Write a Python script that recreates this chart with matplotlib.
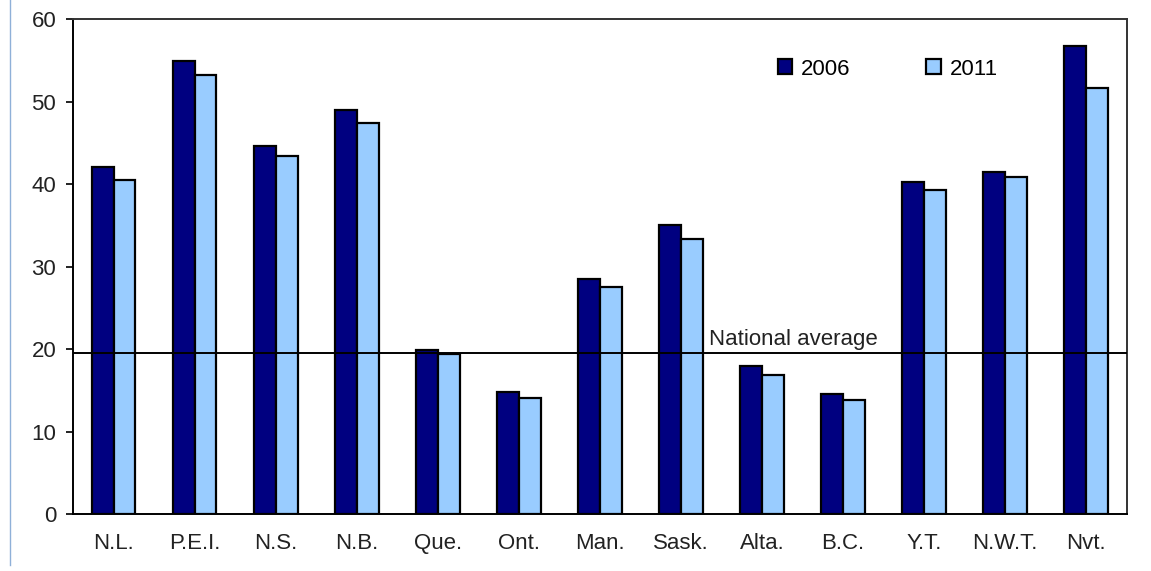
import numpy as np
import matplotlib.pyplot as plt
from matplotlib.lines import Line2D

# Values
provinces = ["N.L.", "P.E.I.", "N.S.", "N.B.", "Que.", "Ont.", "Man.",
             "Sask.", "Alta.", "B.C.", "Y.T.", "N.W.T.", "Nvt."]
values_2006 = [42.1, 54.9, 44.6, 49.0, 19.9, 14.8, 28.5, 35.0, 17.9, 14.5, 40.3, 41.5, 56.7]
values_2011 = [40.5, 53.2, 43.4, 47.4, 19.4, 14.1, 27.5, 33.3, 16.9, 13.8, 39.3, 40.8, 51.6]
national_average = 19.5
series_labels = ["2006", "2011"]

plt.rcParams["font.family"] = ["Liberation Sans", "DejaVu Sans"]
FS = 16

fig = plt.figure(figsize=(11.51, 5.71), dpi=100)
ax = fig.add_axes([0.0634, 0.0998, 0.9156, 0.8669])

x = np.arange(len(provinces))
w = 0.27
ax.bar(x - w / 2, values_2006, width=w, color="#000080", edgecolor="black",
       linewidth=1.6, label=series_labels[0], zorder=2)
ax.bar(x + w / 2, values_2011, width=w, color="#99ccff", edgecolor="black",
       linewidth=1.6, label=series_labels[1], zorder=2)

ax.axhline(national_average, color="black", linewidth=1.4, zorder=3)
ax.text(7.34, national_average + 0.4, "National average", ha="left", va="bottom",
        fontsize=FS, color="#222222")

ax.set_xlim(-0.5, len(provinces) - 0.5)
ax.set_ylim(0, 60)
ax.set_yticks(np.arange(0, 61, 10))
ax.set_xticks(x)
ax.set_xticklabels(provinces)
ax.tick_params(axis="y", direction="out", length=5, width=1.4, pad=7,
               labelsize=FS, colors="#222222")
ax.tick_params(axis="x", length=0, pad=14, labelsize=FS, colors="#222222")
for s in ax.spines.values():
    s.set_color("black")
    s.set_linewidth(1.4)
ax.spines["top"].set_color("#333333")
ax.spines["right"].set_color("#333333")

ax.legend(loc="center", bbox_to_anchor=(0.773, 0.899), ncol=2, frameon=False,
          fontsize=FS, handlelength=0.65, handleheight=0.65, handletextpad=0.4,
          columnspacing=3.4)

# thin blue page-edge line on the far left
fig.add_artist(Line2D([0.009, 0.009], [0.01, 1.0], color="#8fb0d8", linewidth=1.0))

fig.savefig("out.png", dpi=100, facecolor="white")
